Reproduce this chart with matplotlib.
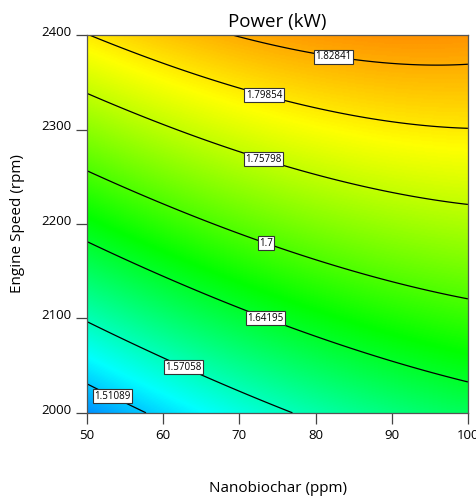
import numpy as np
import matplotlib.pyplot as plt
from matplotlib.colors import LinearSegmentedColormap
from matplotlib.transforms import ScaledTranslation

# quadratic response surface (coded units)
coef_names = ['b0', 'A', 'B', 'AB', 'A2', 'B2']
coef_values = [1.7168, 0.0449, 0.1345, -0.0235, -0.015, -0.017]

# contour levels shown in the plot
levels = [1.51089, 1.57058, 1.64195, 1.7, 1.75798, 1.79854, 1.82841]
level_text = ['1.51089', '1.57058', '1.64195', '1.7', '1.75798', '1.79854', '1.82841']
label_pos = [(53.7, 2024), (63.1, 2056), (73.8, 2108), (73.8, 2187),
             (73.5, 2277), (73.5, 2345), (82.5, 2385)]

x_ticks = [50, 60, 70, 80, 90, 100]
y_ticks = [2000, 2100, 2200, 2300, 2400]

plt.rcParams['font.family'] = ['Open Sans', 'DejaVu Sans']

c = dict(zip(coef_names, coef_values))
x = np.linspace(50, 100, 300)
y = np.linspace(2000, 2400, 300)
X, Y = np.meshgrid(x, y)
A = (X - 75) / 25
B = (Y - 2200) / 200
Z = (c['b0'] + c['A'] * A + c['B'] * B + c['AB'] * A * B
     + c['A2'] * A ** 2 + c['B2'] * B ** 2)

# blue -> cyan -> green -> yellow -> red like Design-Expert
cmap = LinearSegmentedColormap.from_list(
    'de', ['#0000ff', '#00ffff', '#00ff00', '#ffff00', '#ff0000'])

fig = plt.figure(figsize=(4.76, 5.01), dpi=100)
ax = fig.add_axes([0.183, 0.176, 0.800, 0.754])

ax.imshow(Z, extent=(50, 100, 2000, 2400), origin='lower', aspect='auto',
          cmap=cmap, vmin=1.41, vmax=1.915, interpolation='bilinear')
cs = ax.contour(X, Y, Z, levels=levels, colors='black', linewidths=0.9)
fmt = dict(zip(levels, level_text))
labels = ax.clabel(cs, levels, fmt=fmt, inline=False, fontsize=7,
                   manual=label_pos)
for t in labels:
    t.set_rotation(0)
    t.set_bbox(dict(facecolor='white', edgecolor='#333333', linewidth=0.8,
                    boxstyle='square,pad=0.15'))
    t.set_zorder(5)

ax.set_xlim(50, 100)
ax.set_ylim(2000, 2400)
ax.set_xticks(x_ticks)
ax.set_yticks(y_ticks)
ax.tick_params(direction='out', length=8, width=0.9, color='#444444',
               labelsize=9.5, pad=4)
ax.tick_params(axis='y', length=8, pad=3)
for lab in ax.get_yticklabels():
    lab.set_transform(lab.get_transform() + ScaledTranslation(0, 3 / 72, fig.dpi_scale_trans))
for s in ax.spines.values():
    s.set_color('#555555')
    s.set_linewidth(0.9)

ax.set_title('Power (kW)', fontsize=13.5, pad=6)
ax.set_xlabel('Nanobiochar (ppm)', fontsize=11, labelpad=28)
ax.set_ylabel('Engine Speed (rpm)', fontsize=11, labelpad=12)

fig.savefig('out.png', dpi=100)
